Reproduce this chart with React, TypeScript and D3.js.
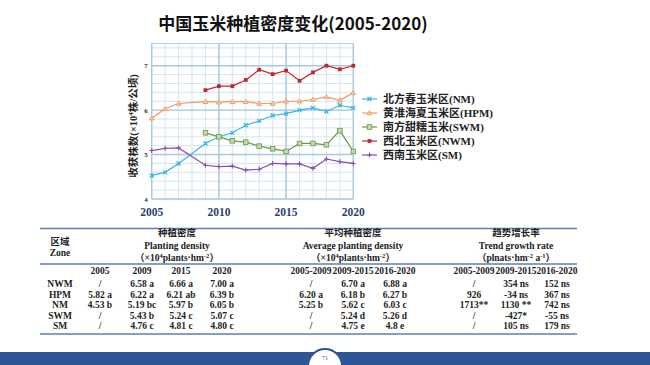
import React from "react";
import * as d3 from "d3";

const years = [2005, 2006, 2007, 2008, 2009, 2010, 2011, 2012, 2013, 2014, 2015, 2016, 2017, 2018, 2019, 2020];
const nm = [4.53, 4.6, 4.8, null, 5.25, 5.4, 5.49, 5.66, 5.76, 5.88, 5.92, 6.0, 6.05, 5.97, 6.11, 6.05];
const hpm = [5.82, 6.03, 6.15, null, 6.19, 6.18, 6.19, 6.19, 6.15, 6.15, 6.2, 6.2, 6.24, 6.3, 6.22, 6.39];
const swm = [null, null, null, null, 5.49, 5.4, 5.31, 5.28, 5.19, 5.13, 5.07, 5.25, 5.25, 5.22, 5.54, 5.07];
const nwm = [null, null, null, null, 6.45, 6.54, 6.54, 6.68, 6.91, 6.81, 6.89, 6.66, 6.85, 7.0, 6.92, 7.0];
const sm = [5.09, 5.14, 5.15, null, 4.76, 4.73, 4.74, 4.65, 4.67, 4.8, 4.79, 4.79, 4.69, 4.9, 4.84, 4.8];
const yTicks = [4, 5, 6, 7];
const xTicks = [2005, 2010, 2015, 2020];

const zones = ["NWM", "HPM", "NM", "SWM", "SM"];
const d2005 = ["/", "5.82 a", "4.53 b", "/", "/"];
const d2009 = ["6.58 a", "6.22 a", "5.19 bc", "5.43 b", "4.76 c"];
const d2015 = ["6.66 a", "6.21 ab", "5.97 b", "5.24 c", "4.81 c"];
const d2020 = ["7.00 a", "6.39 b", "6.05 b", "5.07 c", "4.80 c"];
const avg0509 = ["/", "6.20 a", "5.25 b", "/", "/"];
const avg0915 = ["6.70 a", "6.18 b", "5.62 c", "5.24 d", "4.75 e"];
const avg1620 = ["6.88 a", "6.27 b", "6.03 c", "5.26 d", "4.8 e"];
const tr0509 = ["/", "926", "1713**", "/", "/"];
const tr0915 = ["354 ns", "-34 ns", "1130 **", "-427*", "105 ns"];
const tr1620 = ["152 ns", "367 ns", "742 ns", "-55 ns", "179 ns"];

const series = [
  { key: "NM", label: "北方春玉米区(NM)", values: nm, color: "#35b6e4", fill: "#35b6e4", shape: "x" },
  { key: "HPM", label: "黄淮海夏玉米区(HPM)", values: hpm, color: "#f0975a", fill: "#f8cba4", shape: "tri" },
  { key: "SWM", label: "南方甜糯玉米(SWM)", values: swm, color: "#6a9647", fill: "#c3dca6", shape: "sq" },
  { key: "NWM", label: "西北玉米区(NWM)", values: nwm, color: "#c0282f", fill: "#c0282f", shape: "fsq" },
  { key: "SM", label: "西南玉米区(SM)", values: sm, color: "#8a4db3", fill: "#8a4db3", shape: "plus" },
];

const SERIF = "'Liberation Serif', 'Noto Sans CJK SC', serif";
const x = d3.scaleLinear().domain([2005, 2020]).range([151.7, 353.3]);
const y = d3.scaleLinear().domain([4, 7.5]).range([199, 43.5]);

const Marker = ({ cx, cy, s }: any) => {
  const c = s.color;
  if (s.shape === "x")
    return <path d={`M${cx - 2},${cy - 2}L${cx + 2},${cy + 2}M${cx - 2},${cy + 2}L${cx + 2},${cy - 2}`} stroke={c} strokeWidth={1.2} />;
  if (s.shape === "tri")
    return <path d={`M${cx},${cy - 2.4}L${cx + 2.5},${cy + 1.8}L${cx - 2.5},${cy + 1.8}Z`} fill={s.fill} stroke={c} strokeWidth={0.8} />;
  if (s.shape === "sq")
    return <rect x={cx - 2.3} y={cy - 2.3} width={4.6} height={4.6} fill={s.fill} stroke={c} strokeWidth={0.8} />;
  if (s.shape === "fsq")
    return <rect x={cx - 1.9} y={cy - 1.9} width={3.8} height={3.8} fill={c} />;
  return <path d={`M${cx - 2.4},${cy}L${cx + 2.4},${cy}M${cx},${cy - 2.4}L${cx},${cy + 2.4}`} stroke={c} strokeWidth={1.1} />;
};

const Chart = () => {
  const line = d3.line<[number, number]>().x(d => x(d[0])).y(d => y(d[1]));
  const minorY = d3.range(4, 7.51, 0.2);
  return (
    <g>
      {years.map(yr => (
        <line key={"vx" + yr} x1={x(yr)} x2={x(yr)} y1={y(4)} y2={y(7.5)} stroke="#d4e5f3" strokeWidth={1} />
      ))}
      {minorY.map(v => (
        <line key={"hy" + v} x1={x(2005)} x2={x(2020)} y1={y(v)} y2={y(v)} stroke="#d4e5f3" strokeWidth={1} />
      ))}
      <line x1={x(2005)} x2={x(2020)} y1={y(7.5)} y2={y(7.5)} stroke="#b5d2e8" strokeWidth={1.2} />
      {yTicks.map(v => (
        <line key={"my" + v} x1={x(2005)} x2={x(2020)} y1={y(v)} y2={y(v)} stroke="#a9c9e2" strokeWidth={1.4} />
      ))}
      {xTicks.map(v => (
        <line key={"mx" + v} x1={x(v)} x2={x(v)} y1={y(4)} y2={y(7.5)} stroke="#a9c9e2" strokeWidth={1.4} />
      ))}
      {yTicks.map(v => (
        <text key={"yt" + v} x={x(2005) - 4} y={y(v) + 2.5} fontSize={7} fontWeight="bold" fill="#333" textAnchor="end" fontFamily={SERIF}>{v}</text>
      ))}
      {xTicks.map(v => (
        <text key={"xt" + v} x={x(v)} y={216} fontSize={11.5} fontWeight="bold" fill="#2b3f6e" textAnchor="middle" fontFamily={SERIF}>{v}</text>
      ))}
      <text transform="translate(137,126) rotate(-90)" textAnchor="middle" fontSize={10.5} fontWeight="bold" fill="#222" fontFamily={SERIF}>
        收获株数(×10<tspan fontSize={7} dy={-4}>4</tspan><tspan dy={4}>株/公顷)</tspan>
      </text>
      {series.map(s => {
        const pts = years.map((yr, i) => [yr, s.values[i]]).filter(p => p[1] != null) as [number, number][];
        return (
          <g key={s.key}>
            <path d={line(pts) || ""} fill="none" stroke={s.color} strokeWidth={1.2} />
            {pts.map(p => <Marker key={p[0]} cx={x(p[0])} cy={y(p[1])} s={s} />)}
          </g>
        );
      })}
      {series.map((s, i) => {
        const ly = 99 + i * 14;
        return (
          <g key={"lg" + s.key}>
            <line x1={362} x2={377} y1={ly} y2={ly} stroke={s.color} strokeWidth={1.2} />
            <Marker cx={369.5} cy={ly} s={s} />
            <text x={383} y={ly + 4} fontSize={11} fontWeight="bold" fill="#222" fontFamily={SERIF}>{s.label}</text>
          </g>
        );
      })}
    </g>
  );
};

const Unit = ({ cx, cy, rate }: any) => (
  <text x={cx} y={cy} textAnchor="middle" fontSize={9.5} fontWeight="bold" fill="#222" fontFamily={SERIF}>
    {rate ? "（plnats·hm" : "（×10"}
    {rate ? <tspan fontSize={6.5} dy={-3.5}>-2</tspan> : <tspan fontSize={6.5} dy={-3.5}>4</tspan>}
    <tspan dy={3.5}>{rate ? " a" : "plants·hm"}</tspan>
    {rate ? <tspan fontSize={6.5} dy={-3.5}>-1</tspan> : <tspan fontSize={6.5} dy={-3.5}>-2</tspan>}
    <tspan dy={3.5}>）</tspan>
  </text>
);

const Table = () => {
  const cols = [
    { cx: 100, vals: d2005, head: "2005" },
    { cx: 142, vals: d2009, head: "2009" },
    { cx: 181, vals: d2015, head: "2015" },
    { cx: 222, vals: d2020, head: "2020" },
    { cx: 311, vals: avg0509, head: "2005-2009" },
    { cx: 353, vals: avg0915, head: "2009-2015" },
    { cx: 395, vals: avg1620, head: "2016-2020" },
    { cx: 474, vals: tr0509, head: "2005-2009" },
    { cx: 516, vals: tr0915, head: "2009-2015" },
    { cx: 557, vals: tr1620, head: "2016-2020" },
  ];
  const rowY = zones.map((_, i) => 287 + i * 10.5);
  const t = { fontSize: 9.5, fontWeight: "bold", fill: "#222", fontFamily: SERIF, textAnchor: "middle" } as any;
  return (
    <g>
      <line x1={40} x2={577} y1={228.5} y2={228.5} stroke="#5b7fb3" strokeWidth={1.5} />
      <line x1={40} x2={577} y1={264} y2={264} stroke="#5b7fb3" strokeWidth={1.5} />
      <line x1={40} x2={577} y1={334} y2={334} stroke="#5b7fb3" strokeWidth={1.5} />
      <text {...t} x={60} y={245}>区域</text>
      <text {...t} x={60} y={256}>Zone</text>
      <text {...t} x={177} y={236}>种植密度</text>
      <text {...t} x={177} y={249}>Planting density</text>
      <Unit cx={177} cy={261} />
      <text {...t} x={353} y={236}>平均种植密度</text>
      <text {...t} x={353} y={249}>Average planting density</text>
      <Unit cx={353} cy={261} />
      <text {...t} x={516} y={236}>趋势增长率</text>
      <text {...t} x={516} y={249}>Trend growth rate</text>
      <Unit cx={516} cy={261} rate />
      {cols.map((c, j) => (
        <text key={"h" + j} {...t} x={c.cx} y={274}>{c.head}</text>
      ))}
      {zones.map((z, i) => (
        <text key={z} {...t} x={60} y={rowY[i]}>{z}</text>
      ))}
      {cols.map((c, j) =>
        c.vals.map((v, i) => (
          <text key={j + "-" + i} {...t} x={c.cx} y={rowY[i]}>{v}</text>
        ))
      )}
    </g>
  );
};

export default function App() {
  return (
    <div style={{ position: "fixed", left: 0, top: 0 }}>
      <svg width={650} height={365} style={{ display: "block", background: "#fff" }}>
        <text x={293} y={30} textAnchor="middle" fontSize={17} fontWeight="bold" fill="#111" fontFamily="'Noto Sans CJK SC', sans-serif">
          中国玉米种植密度变化(2005-2020)
        </text>
        <Chart />
        <Table />
        <rect x={0} y={352} width={650} height={13} fill="#2d5597" />
        <circle cx={325} cy={366} r={17} fill="#fff" stroke="#2d5597" strokeWidth={2} />
        <text x={325} y={360} textAnchor="middle" fontSize={6} fill="#2d5597" fontFamily={SERIF}>71</text>
      </svg>
    </div>
  );
}
